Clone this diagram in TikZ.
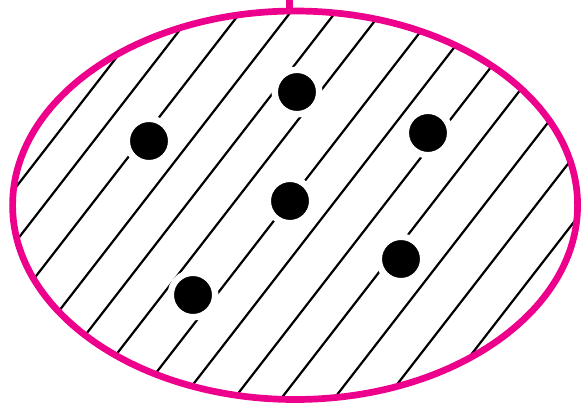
\documentclass[tikz,border=0pt]{standalone}
\usepackage{tikz}
\usetikzlibrary{shapes.geometric}
\definecolor{setmagenta}{RGB}{236,0,140}

\begin{document}
\begin{tikzpicture}[
  x=1pt,y=-1pt,
  region/.style={ellipse,draw=setmagenta,line width=6.7pt,inner sep=0pt,minimum width=565pt,minimum height=388.5pt},
  hatch/.style={line width=2.2pt,black},
  dot/.style={circle,fill=black,draw=white,line width=6.5pt,minimum size=44.5pt,inner sep=0pt},
  stem/.style={draw=setmagenta,line width=6.7pt}
]
  \useasboundingbox (0,0) rectangle (581,404);
  % hatching inside the set
  \begin{scope}
    \clip (295.1,205.25) ellipse [x radius=282.5, y radius=194.25];
    \foreach \c in {161,203,250,300,345,391,445,491,543,590,643,695,746}
      \draw[hatch] (\c+15.5,-20) -- (\c-333.25,430);
  \end{scope}
  % points
  \node[dot] (p1) at (149,141) {};
  \node[dot] (p2) at (297,92) {};
  \node[dot] (p3) at (428,133) {};
  \node[dot] (p4) at (290,201) {};
  \node[dot] (p5) at (401,259) {};
  \node[dot] (p6) at (193,295) {};
  % the set and its stem
  \node[region] (set) at (295.1,205.25) {};
  \coordinate (top) at (289.2,0);
  \draw[stem] (top) -- (top |- set.north);
\end{tikzpicture}
\end{document}
